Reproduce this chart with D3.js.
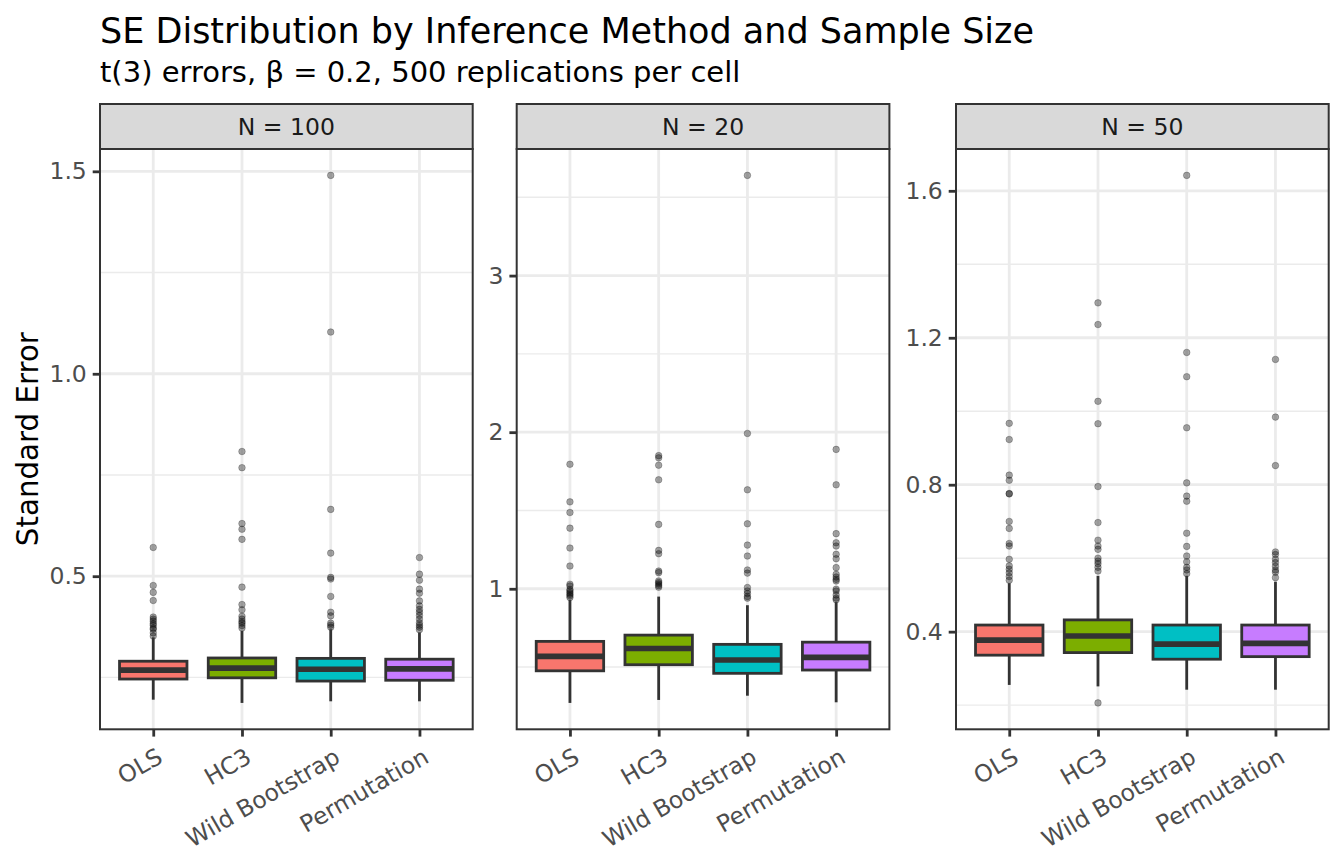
<!DOCTYPE html>
<html>
<head>
<meta charset="utf-8">
<script src="https://cdn.jsdelivr.net/npm/d3@7"></script>
<style>
  body { margin: 0; background: #fff; }
  text { font-family: "DejaVu Sans", sans-serif; }
</style>
</head>
<body>
<div id="chart"></div>
<script>
// Categories
const methods = ["OLS", "HC3", "Wild Bootstrap", "Permutation"];
const panelLabels = ["N = 100", "N = 20", "N = 50"];

// Box summaries per method: [lower whisker, Q1, median, Q3, upper whisker]
const statsN100 = [
    [0.195, 0.246, 0.268, 0.290, 0.349],
    [0.187, 0.249, 0.273, 0.298, 0.365],
    [0.191, 0.241, 0.270, 0.297, 0.369],
    [0.191, 0.243, 0.271, 0.295, 0.361]
];
const outliersN100 = [
    [0.571, 0.477, 0.460, 0.440, 0.399, 0.394, 0.389, 0.383, 0.379, 0.372, 0.369, 0.360, 0.352],
    [0.808, 0.768, 0.630, 0.616, 0.591, 0.473, 0.430, 0.417, 0.401, 0.394, 0.388, 0.384, 0.378, 0.372],
    [1.490, 1.103, 0.665, 0.557, 0.497, 0.493, 0.450, 0.411, 0.402, 0.384, 0.379, 0.374],
    [0.546, 0.505, 0.490, 0.468, 0.458, 0.439, 0.427, 0.418, 0.411, 0.403, 0.394, 0.385, 0.379, 0.374, 0.368]
];

const statsN20 = [
    [0.271, 0.476, 0.568, 0.664, 0.930],
    [0.290, 0.515, 0.619, 0.704, 0.950],
    [0.317, 0.460, 0.545, 0.645, 0.895],
    [0.275, 0.481, 0.562, 0.659, 0.915]
];
const outliersN20 = [
    [1.795, 1.555, 1.487, 1.387, 1.260, 1.145, 1.029, 1.018, 0.995, 0.986, 0.975, 0.965, 0.955, 0.944],
    [1.850, 1.836, 1.789, 1.696, 1.411, 1.245, 1.224, 1.113, 1.103, 1.050, 1.040, 1.030, 1.020, 1.010],
    [3.640, 1.992, 1.632, 1.415, 1.279, 1.209, 1.120, 1.100, 1.008, 0.986, 0.970, 0.950, 0.940],
    [1.890, 1.664, 1.352, 1.294, 1.273, 1.220, 1.192, 1.135, 1.092, 1.075, 1.060, 1.050, 0.997, 0.986, 0.960, 0.940, 0.930]
];

const statsN50 = [
    [0.255, 0.336, 0.377, 0.418, 0.532],
    [0.251, 0.343, 0.388, 0.432, 0.552],
    [0.242, 0.325, 0.366, 0.418, 0.552],
    [0.242, 0.332, 0.368, 0.418, 0.536]
];
const outliersN50 = [
    [0.967, 0.923, 0.826, 0.812, 0.776, 0.775, 0.700, 0.681, 0.640, 0.633, 0.597, 0.579, 0.570, 0.560, 0.550, 0.540],
    [0.206, 1.295, 1.236, 1.027, 0.966, 0.795, 0.697, 0.649, 0.633, 0.624, 0.600, 0.592, 0.585, 0.575, 0.565],
    [1.642, 1.160, 1.094, 0.955, 0.805, 0.769, 0.755, 0.668, 0.632, 0.606, 0.590, 0.575, 0.568, 0.558],
    [1.141, 0.984, 0.852, 0.617, 0.610, 0.597, 0.588, 0.578, 0.568, 0.562, 0.547]
];

// Y tick values per panel
const ticksN100 = [0.5, 1.0, 1.5];
const ticksN20 = [1, 2, 3];
const ticksN50 = [0.4, 0.8, 1.2, 1.6];

const methodColors = ["#F8766D", "#7CAE00", "#00BFC4", "#C77CFF"];

const width = 1344, height = 864;
const panelTop = 149, panelBottom = 729.3, stripTop = 104;
const panelLefts = [100, 516.7, 956];
const panelW = 372.7;

const svg = d3.select("#chart").append("svg")
    .attr("width", width)
    .attr("height", height);

// Titles
svg.append("text")
    .attr("x", 100).attr("y", 43)
    .attr("font-size", 35)
    .attr("fill", "#000")
    .text("SE Distribution by Inference Method and Sample Size");

svg.append("text")
    .attr("x", 100).attr("y", 82)
    .attr("font-size", 29)
    .attr("fill", "#000")
    .text("t(3) errors, β = 0.2, 500 replications per cell");

svg.append("text")
    .attr("transform", `translate(37.5,${(panelTop + panelBottom) / 2}) rotate(-90)`)
    .attr("text-anchor", "middle")
    .attr("font-size", 29.3)
    .attr("fill", "#000")
    .text("Standard Error");

function drawPanel(i, stats, outliers, ticks, fmt) {
    const left = panelLefts[i];
    const g = svg.append("g");

    const x = d3.scalePoint()
        .domain(methods)
        .range([left, left + panelW])
        .padding(0.6);

    // 5% expansion like ggplot
    const allVals = stats.flat().concat(outliers.flat());
    const [lo, hi] = d3.extent(allVals);
    const pad = (hi - lo) * 0.05;
    const y = d3.scaleLinear()
        .domain([lo - pad, hi + pad])
        .range([panelBottom, panelTop]);

    const step = ticks[1] - ticks[0];
    const minor = [];
    for (let v = ticks[0] - step / 2; v <= hi + pad; v += step) {
        if (v >= lo - pad) minor.push(v);
    }

    // gridlines
    g.selectAll(".minor")
        .data(minor)
        .enter().append("line")
        .attr("x1", left).attr("x2", left + panelW)
        .attr("y1", d => y(d)).attr("y2", d => y(d))
        .attr("stroke", "#EBEBEB").attr("stroke-width", 1.4);

    g.selectAll(".major-y")
        .data(ticks)
        .enter().append("line")
        .attr("x1", left).attr("x2", left + panelW)
        .attr("y1", d => y(d)).attr("y2", d => y(d))
        .attr("stroke", "#EBEBEB").attr("stroke-width", 2.8);

    g.selectAll(".major-x")
        .data(methods)
        .enter().append("line")
        .attr("x1", d => x(d)).attr("x2", d => x(d))
        .attr("y1", panelTop).attr("y2", panelBottom)
        .attr("stroke", "#EBEBEB").attr("stroke-width", 2.8);

    // outliers
    outliers.forEach((pts, j) => {
        g.selectAll(null)
            .data(pts)
            .enter().append("circle")
            .attr("cx", x(methods[j]))
            .attr("cy", d => y(d))
            .attr("r", 3.3)
            .attr("fill", "#000")
            .attr("fill-opacity", 0.35)
            .attr("stroke", "#000")
            .attr("stroke-opacity", 0.25)
            .attr("stroke-width", 1);
    });

    const boxW = x.step() * 0.76;
    const boxes = g.selectAll(".box")
        .data(stats)
        .enter().append("g");

    boxes.append("line")
        .attr("x1", (d, j) => x(methods[j])).attr("x2", (d, j) => x(methods[j]))
        .attr("y1", d => y(d[3])).attr("y2", d => y(d[4]))
        .attr("stroke", "#333").attr("stroke-width", 2.8);
    boxes.append("line")
        .attr("x1", (d, j) => x(methods[j])).attr("x2", (d, j) => x(methods[j]))
        .attr("y1", d => y(d[1])).attr("y2", d => y(d[0]))
        .attr("stroke", "#333").attr("stroke-width", 2.8);
    boxes.append("rect")
        .attr("x", (d, j) => x(methods[j]) - boxW / 2)
        .attr("width", boxW)
        .attr("y", d => y(d[3]))
        .attr("height", d => y(d[1]) - y(d[3]))
        .attr("fill", (d, j) => methodColors[j])
        .attr("stroke", "#333").attr("stroke-width", 2.8);
    boxes.append("line")
        .attr("x1", (d, j) => x(methods[j]) - boxW / 2)
        .attr("x2", (d, j) => x(methods[j]) + boxW / 2)
        .attr("y1", d => y(d[2])).attr("y2", d => y(d[2]))
        .attr("stroke", "#333").attr("stroke-width", 5.6);

    // panel border
    g.append("rect")
        .attr("x", left).attr("y", panelTop)
        .attr("width", panelW).attr("height", panelBottom - panelTop)
        .attr("fill", "none")
        .attr("stroke", "#333").attr("stroke-width", 2);

    // strip
    g.append("rect")
        .attr("x", left).attr("y", stripTop)
        .attr("width", panelW).attr("height", panelTop - stripTop)
        .attr("fill", "#D9D9D9")
        .attr("stroke", "#333").attr("stroke-width", 2);
    g.append("text")
        .attr("x", left + panelW / 2)
        .attr("y", (stripTop + panelTop) / 2)
        .attr("dy", "0.36em")
        .attr("text-anchor", "middle")
        .attr("font-size", 23.5)
        .attr("fill", "#1A1A1A")
        .text(panelLabels[i]);

    // y axis
    const yAxis = g.append("g")
        .attr("transform", `translate(${left},0)`)
        .call(d3.axisLeft(y).tickValues(ticks).tickFormat(fmt).tickSize(7.3).tickPadding(5.9));
    yAxis.select(".domain").remove();
    yAxis.selectAll(".tick line").attr("stroke", "#333").attr("stroke-width", 2.8);
    yAxis.selectAll(".tick text")
        .attr("font-size", 23.5)
        .attr("font-family", "DejaVu Sans")
        .attr("fill", "#4D4D4D");

    // x axis
    const xAxis = g.append("g")
        .attr("transform", `translate(0,${panelBottom})`)
        .call(d3.axisBottom(x).tickSize(7.3).tickPadding(5.9));
    xAxis.select(".domain").remove();
    xAxis.selectAll(".tick line").attr("stroke", "#333").attr("stroke-width", 2.8);
    xAxis.selectAll(".tick text")
        .attr("font-size", 23.5)
        .attr("font-family", "DejaVu Sans")
        .attr("fill", "#4D4D4D")
        .attr("text-anchor", "end")
        .attr("x", 0).attr("y", 0)
        .attr("dy", "0.8em")
        .attr("transform", "translate(1,16) rotate(-30)");
}

drawPanel(0, statsN100, outliersN100, ticksN100, d3.format(".1f"));
drawPanel(1, statsN20, outliersN20, ticksN20, d3.format("d"));
drawPanel(2, statsN50, outliersN50, ticksN50, d3.format(".1f"));
</script>
</body>
</html>
